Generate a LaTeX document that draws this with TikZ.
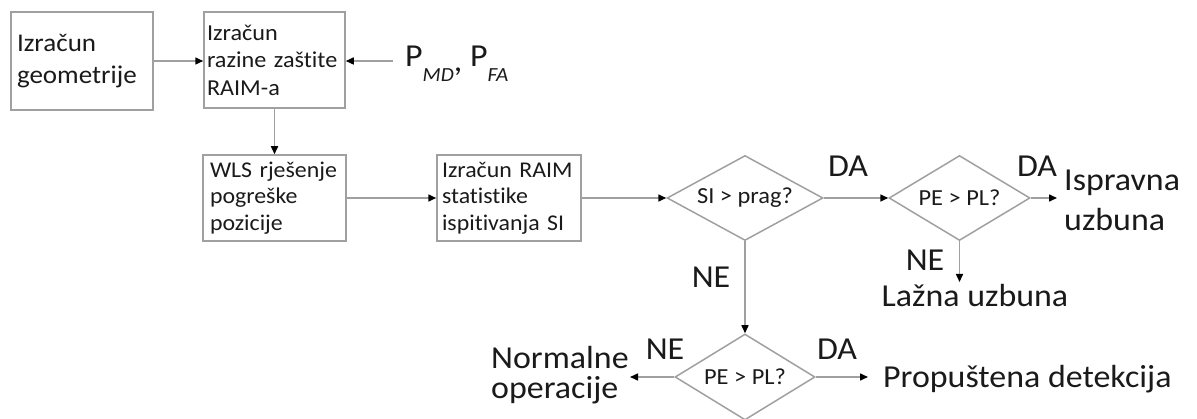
\documentclass[tikz,border=0pt]{standalone}
\usepackage{fontspec}
\setmainfont{Carlito}[FakeStretch=1.06,Ligatures=NoCommon]
\usetikzlibrary{shapes.geometric,arrows.meta}
\definecolor{lineg}{HTML}{A0A0A0}
\definecolor{txt}{HTML}{1A1A1A}
\begin{document}
\begin{tikzpicture}[x=1pt,y=-1pt,text=txt,
  box/.style={draw=lineg, line width=1.5pt, rectangle, align=left, inner ysep=0pt,
    execute at begin node={\hyphenpenalty=10000\exhyphenpenalty=10000}},
  dec/.style={draw=lineg, line width=1.5pt, diamond, aspect=1.8, inner sep=0pt, font=\fontsize{23}{27}\selectfont},
  conn/.style={draw=lineg, line width=1.5pt, -{Triangle[length=8pt,width=7pt,color=black]}},
  lbl/.style={inner sep=0pt, font=\fontsize{32}{40}\selectfont}]
\useasboundingbox (0,0) rectangle (1197,419);
% boxes
\node[box, minimum width=142pt, minimum height=98pt, text width=130pt, inner xsep=6pt, font=\fontsize{25.5}{32}\selectfont] (b1) at (82,61) {Izračun\\geometrije};
\node[box, minimum width=141pt, minimum height=96pt, text width=135pt, inner xsep=3pt, font=\fontsize{22.8}{27.5}\selectfont] (b2) at (274.5,60) {Izračun\\razine zaštite\\RAIM-a};
\node[box, minimum width=143pt, minimum height=86pt, text width=129pt, inner xsep=7pt, font=\fontsize{22.5}{26.5}\selectfont] (b3) at (274.5,198) {WLS rješenje\\pogreške\\pozicije};
\node[box, minimum width=144pt, minimum height=86pt, text width=134pt, inner xsep=5pt, font=\fontsize{22.5}{26.5}\selectfont] (b4) at (509,198) {Izračun RAIM\\statistike\\ispitivanja SI};
% decisions
\node[dec, minimum width=156pt, minimum height=85pt] (d1) at (745,198) {SI > prag?};
\node[dec, minimum width=141pt, minimum height=85pt] (d2) at (959.5,198) {PE > PL?};
\node[dec, minimum width=140pt, minimum height=86pt] (d3) at (745,377) {PE > PL?};
% input probabilities
\node[inner sep=0pt, anchor=base west, font=\fontsize{32}{40}\selectfont] (pf) at (405,67)
  {P\raisebox{-15pt}{\fontsize{20}{20}\selectfont\itshape MD}\raisebox{-5pt}{,} P\raisebox{-15pt}{\fontsize{20}{20}\selectfont\itshape FA}};
\coordinate (pin) at (393,61);
% outcome labels
\node[lbl, anchor=west, align=left, font=\fontsize{32}{40}\selectfont] (isp) at (1064,200) {Ispravna\\uzbuna};
\node[lbl, anchor=base] (laz) at (975,307) {Lažna uzbuna};
\node[lbl, anchor=west, align=left, font=\fontsize{32}{30}\selectfont] (nor) at (491,375) {Normalne\\operacije};
\node[lbl, anchor=base west] (pro) at (883,388) {Propuštena detekcija};
% yes/no labels
\node[lbl] (da1) at (848,166.5) {DA};
\node[lbl] (da2) at (1037,166.5) {DA};
\node[lbl] (ne1) at (711,277.5) {NE};
\node[lbl] (ne2) at (925,260) {NE};
\node[lbl] (ne3) at (665,349) {NE};
\node[lbl] (da3) at (837,349) {DA};
% arrow end points
\coordinate (ia) at (1057,198);
\coordinate (la) at (959.5,282);
\coordinate (na) at (630,377);
\coordinate (pa) at (868,377);
% connectors
\draw[conn] (b1.east) -- (b1.east -| b2.west);
\draw[conn] (pin) -- (pin -| b2.east);
\draw[conn] (b2.south) -- (b3.north);
\draw[conn] (b3.east) -- (b4.west);
\draw[conn] (b4.east) -- (d1.west);
\draw[conn] (d1.east) -- (d2.west);
\draw[conn] (d2.east) -- (ia);
\draw[conn] (d2.south) -- (la);
\draw[conn] (d1.south) -- (d3.north);
\draw[conn] (d3.west) -- (na);
\draw[conn] (d3.east) -- (pa);
\end{tikzpicture}
\end{document}
